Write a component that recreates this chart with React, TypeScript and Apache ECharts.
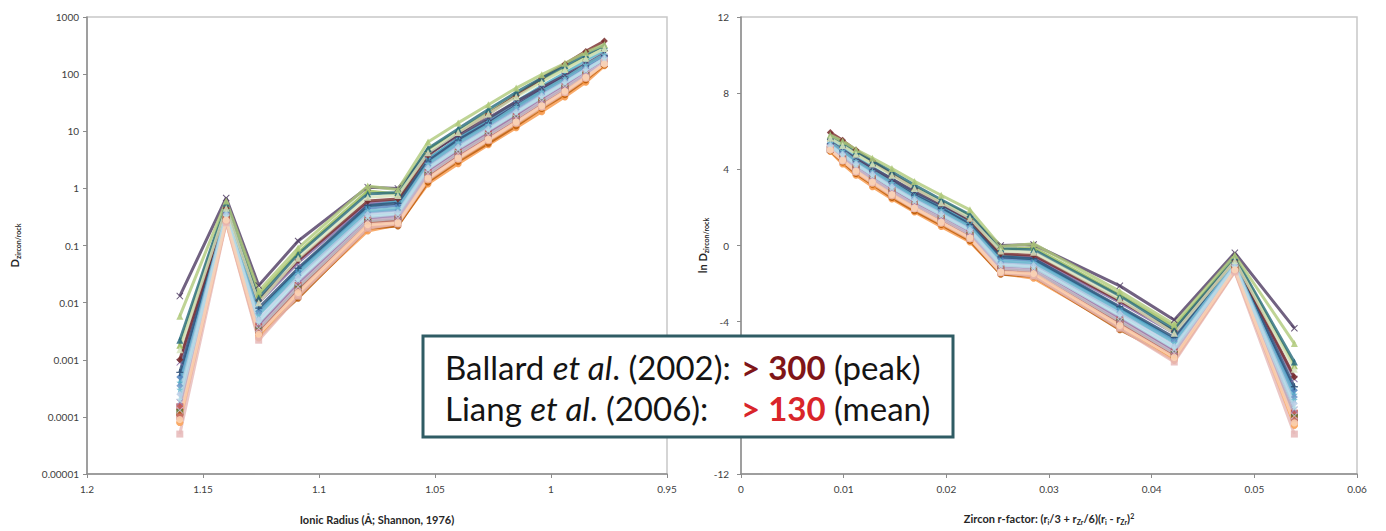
import React, { useEffect, useRef } from 'react';
import * as echarts from 'echarts';

// REE elements, ionic radius (Å, Shannon 1976, 8-fold) and zircon r-factor
const elements = ['La', 'Ce', 'Pr', 'Nd', 'Sm', 'Eu', 'Gd', 'Tb', 'Dy', 'Ho', 'Er', 'Tm', 'Yb', 'Lu'];
const ionicRadius = [1.16, 1.14, 1.126, 1.109, 1.079, 1.066, 1.053, 1.04, 1.027, 1.015, 1.004, 0.994, 0.985, 0.977];
const rFactor = [0.0539, 0.0481, 0.0422, 0.0369, 0.0285, 0.0253, 0.0223, 0.0195, 0.0169, 0.0147, 0.0128, 0.0112, 0.0099, 0.0087];

// D zircon/rock per sample (La ... Lu)
const s01 = [0.0005, 0.38, 0.007, 0.035, 0.45, 0.5, 2.8, 6.5, 13.5, 27, 50, 85, 140, 205];
const s02 = [0.00015, 0.32, 0.0038, 0.02, 0.28, 0.3, 1.9, 4.3, 9, 18, 34, 60, 100, 165];
const s03 = [0.0018, 0.5, 0.014, 0.075, 0.9, 0.8, 4.8, 10, 21, 42, 75, 125, 200, 290];
const s04 = [0.0009, 0.42, 0.01, 0.05, 0.55, 0.6, 3.2, 7.5, 15, 30, 55, 90, 140, 200];
const s05 = [0.0004, 0.42, 0.007, 0.038, 0.48, 0.6, 3.3, 7.5, 16, 33, 62, 105, 175, 260];
const s06 = [0.00008, 0.26, 0.0024, 0.013, 0.18, 0.23, 1.2, 2.7, 5.8, 11.5, 22, 40, 72, 140];
const s07 = [0.0006, 0.4, 0.008, 0.04, 0.5, 0.55, 3.0, 7, 14, 28, 52, 88, 145, 210];
const s08 = [0.001, 0.45, 0.011, 0.055, 0.6, 0.65, 3.8, 9, 20, 42, 85, 150, 250, 380];
const s09 = [0.00012, 0.3, 0.0033, 0.018, 0.26, 0.28, 1.7, 4, 8.3, 16.5, 32, 56, 95, 155];
const s10 = [0.013, 0.68, 0.02, 0.12, 1.05, 1.0, 4.0, 8.5, 17, 33, 58, 95, 150, 230];
const s11 = [0.0022, 0.55, 0.012, 0.07, 0.8, 0.85, 5.0, 11, 24, 48, 85, 140, 220, 320];
const s12 = [0.00011, 0.3, 0.0028, 0.012, 0.2, 0.22, 1.3, 3, 6.2, 12.5, 25, 44, 80, 145];
const s13 = [0.00035, 0.36, 0.0065, 0.03, 0.38, 0.42, 2.5, 5.8, 12, 24, 45, 78, 130, 200];
const s14 = [0.0001, 0.28, 0.003, 0.016, 0.24, 0.27, 1.6, 3.7, 7.8, 15.5, 30, 53, 92, 155];
const s15 = [0.0058, 0.6, 0.016, 0.09, 1.1, 0.95, 6.5, 14, 29, 57, 98, 155, 240, 330];
const s16 = [0.00018, 0.32, 0.004, 0.022, 0.3, 0.33, 2.0, 4.6, 9.5, 19, 36, 64, 110, 175];
const s17 = [0.0003, 0.38, 0.006, 0.032, 0.4, 0.45, 2.7, 6.3, 13, 27, 50, 85, 145, 220];
const s18 = [0.00008, 0.27, 0.0026, 0.014, 0.21, 0.24, 1.4, 3.2, 6.8, 13.5, 26, 47, 84, 150];
const s19 = [0.00025, 0.35, 0.005, 0.028, 0.35, 0.38, 2.3, 5.3, 11, 22, 42, 72, 120, 190];
const s20 = [0.00005, 0.25, 0.0022, 0.013, 0.2, 0.24, 1.45, 3.3, 7, 14, 27, 48, 86, 160];
const s21 = [0.0015, 0.45, 0.01, 0.06, 0.7, 0.75, 4.2, 9.5, 20, 40, 72, 120, 190, 280];
const s22 = [0.00013, 0.3, 0.0035, 0.019, 0.27, 0.3, 1.8, 4.1, 8.5, 17, 33, 58, 100, 160];
const s23 = [0.0002, 0.33, 0.0045, 0.025, 0.32, 0.36, 2.2, 5, 10.5, 21, 40, 70, 118, 185];
const s24 = [0.00009, 0.28, 0.0028, 0.015, 0.23, 0.25, 1.5, 3.4, 7.2, 14.5, 28, 50, 88, 150];

const samples = [s01, s02, s03, s04, s05, s06, s07, s08, s09, s10, s11, s12, s13, s14, s15, s16, s17, s18, s19, s20, s21, s22, s23, s24];

const leftYTicks = ['0.00001', '0.0001', '0.001', '0.01', '0.1', '1', '10', '100', '1000'];

// styles (kept apart from data)
const X_PATH = 'path://M1,0 L5,4 L9,0 L10,1 L6,5 L10,9 L9,10 L5,6 L1,10 L0,9 L4,5 L0,1 Z';
const STAR_PATH = 'path://M5,0 L6.2,3.8 L10,3.8 L7,6.2 L8.1,10 L5,7.6 L1.9,10 L3,6.2 L0,3.8 L3.8,3.8 Z';
const PLUS_PATH = 'path://M4,0 H6 V4 H10 V6 H6 V10 H4 V6 H0 V4 H4 Z';
const colors = [
  '#4F81BD', '#C0504D', '#9BBB59', '#8064A2', '#4BACC6', '#F79646',
  '#2C4D75', '#772C2A', '#5F7530', '#4D3B62', '#276A7C', '#B65708',
  '#729ACA', '#CD7371', '#AFC97A', '#9983B5', '#6FBDD1', '#F9AB6B',
  '#B9CDE5', '#E6B9B8', '#D7E4BD', '#CCC1DA', '#B7DEE8', '#FCD5B5',
];
const markers = [
  'diamond', 'rect', 'triangle', X_PATH, STAR_PATH, 'circle',
  PLUS_PATH, 'diamond', 'rect', X_PATH, 'triangle', 'circle',
  'diamond', 'rect', 'triangle', X_PATH, STAR_PATH, 'circle',
  'diamond', 'rect', 'triangle', X_PATH, STAR_PATH, 'circle',
];

const labelFont = { fontFamily: 'Lato, "Open Sans", sans-serif', fontSize: 10, color: '#404040' };
const nameFont = { fontFamily: 'Lato, "Open Sans", sans-serif', fontSize: 11, fontWeight: 'bold' as const, color: '#262626' };
const subRich = {
  s: { fontFamily: 'Lato, sans-serif', fontSize: 7, fontWeight: 'bold' as const, color: '#262626', padding: [6, 0, 0, 0] },
  p: { fontFamily: 'Lato, sans-serif', fontSize: 7, fontWeight: 'bold' as const, color: '#262626', padding: [0, 0, 6, 0] },
};
const BOX_FONT = 33;

export default function App() {
  const ref = useRef<HTMLDivElement>(null);
  useEffect(() => {
    const chart = echarts.init(ref.current!, null, { renderer: 'svg' });
    const series: any[] = [];
    samples.forEach((vals, k) => {
      const base = {
        type: 'line',
        name: 'Sample ' + (k + 1),
        symbol: markers[k],
        symbolSize: 7,
        lineStyle: { width: 3, color: colors[k], opacity: 0.8 },
        itemStyle: { color: colors[k], opacity: 0.85 },
        z: 2,
      };
      series.push({ ...base, xAxisIndex: 0, yAxisIndex: 0, data: ionicRadius.map((x, i) => [x, vals[i], elements[i]]) });
      series.push({ ...base, xAxisIndex: 1, yAxisIndex: 1, data: rFactor.map((x, i) => [x, Math.log(vals[i]), elements[i]]) });
    });

    const axisLine = { show: true, onZero: false, lineStyle: { color: '#8c8c8c', width: 1.5 } };
    const axisTick = { show: true, length: 4, lineStyle: { color: '#8c8c8c' } };
    const n = { fontFamily: 'Lato, sans-serif', fontSize: BOX_FONT, fill: '#141414' };
    const it = { ...n, fontStyle: 'italic' };

    chart.setOption({
      animation: false,
      backgroundColor: '#ffffff',
      grid: [
        { left: 87, top: 17, width: 580, height: 457, show: true, borderColor: '#c8c8c8', borderWidth: 1.5, containLabel: false },
        { left: 741, top: 17, width: 616, height: 457, show: true, borderColor: '#c8c8c8', borderWidth: 1.5, containLabel: false },
      ],
      xAxis: [
        {
          gridIndex: 0, type: 'value', inverse: true, min: 0.95, max: 1.2, interval: 0.05,
          axisLine, axisTick, splitLine: { show: false },
          axisLabel: { ...labelFont, margin: 10, formatter: (v: number) => String(+v.toFixed(2)) },
          name: 'Ionic Radius (Å; Shannon, 1976)', nameLocation: 'middle', nameGap: 40, nameTextStyle: nameFont,
        },
        {
          gridIndex: 1, type: 'value', min: 0, max: 0.06, interval: 0.01,
          axisLine, axisTick, splitLine: { show: false },
          axisLabel: { ...labelFont, margin: 10, formatter: (v: number) => String(+v.toFixed(2)) },
          name: 'Zircon r-factor: (r{s|i}/3 + r{s|Zr}/6)(r{s|i} - r{s|Zr}){p|2}', nameLocation: 'middle', nameGap: 38,
          nameTextStyle: { ...nameFont, rich: subRich },
        },
      ],
      yAxis: [
        {
          gridIndex: 0, type: 'log', logBase: 10, min: 0.00001, max: 1000,
          axisLine, axisTick, splitLine: { show: false }, minorTick: { show: false },
          axisLabel: { ...labelFont, margin: 8, formatter: (v: number) => leftYTicks[Math.round(Math.log10(v)) + 5] ?? '' },
          name: 'D{s|zircon/rock}', nameLocation: 'middle', nameGap: 66,
          nameTextStyle: { ...nameFont, rich: subRich },
        },
        {
          gridIndex: 1, type: 'value', min: -12, max: 12, interval: 4,
          axisLine, axisTick, splitLine: { show: false },
          axisLabel: { ...labelFont, margin: 12 },
          name: 'ln D{s|zircon/rock}', nameLocation: 'middle', nameGap: 32,
          nameTextStyle: { ...nameFont, rich: subRich },
        },
      ],
      series,
      graphic: [
        {
          type: 'group', z: 100,
          children: [
            { type: 'rect', shape: { x: 423, y: 336, width: 530, height: 101 }, style: { fill: '#ffffff', stroke: '#2F5C64', lineWidth: 3 }, z: 100 },
            {
              type: 'text', x: 445, y: 367, z: 101,
              style: { text: '{n|Ballard }{i|et al}{n|. (2002):}', verticalAlign: 'middle', rich: { n, i: it } },
            },
            {
              type: 'text', x: 741, y: 367, z: 101,
              style: {
                text: '{r|> 300}{n| (peak)}', verticalAlign: 'middle',
                rich: { n, r: { ...n, fontWeight: 'bold', fill: '#7F1518' } },
              },
            },
            {
              type: 'text', x: 445, y: 408, z: 101,
              style: { text: '{n|Liang }{i|et al}{n|. (2006):}', verticalAlign: 'middle', rich: { n, i: it } },
            },
            {
              type: 'text', x: 741, y: 408, z: 101,
              style: {
                text: '{r|> 130}{n| (mean)}', verticalAlign: 'middle',
                rich: { n, r: { ...n, fontWeight: 'bold', fill: '#D9252A' } },
              },
            },
          ],
        },
      ],
    });
    return () => chart.dispose();
  }, []);
  return (
    <div
      ref={ref}
      style={{ position: 'absolute', left: 0, top: 0, width: 1386, height: 531, background: '#fff' }}
    />
  );
}
